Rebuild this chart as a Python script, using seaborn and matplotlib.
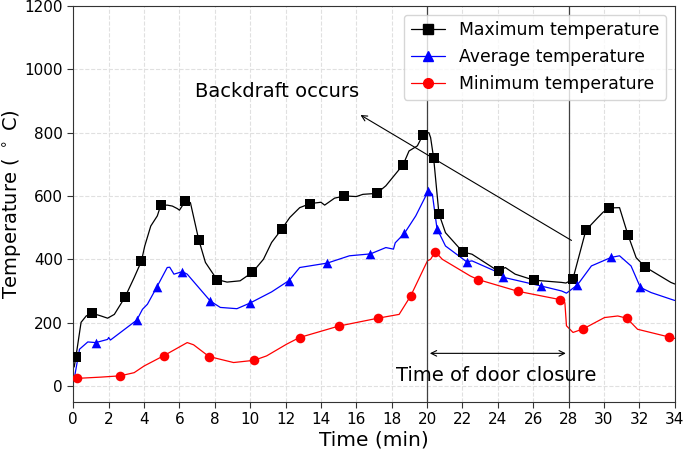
import numpy as np
import pandas as pd
import matplotlib
matplotlib.use("Agg")
import matplotlib.pyplot as plt
from matplotlib.lines import Line2D
import seaborn as sns

# marker points (time in min, temperature in deg C)
max_mark_t = [0.15, 1.04, 2.92, 3.85, 4.94, 6.34, 7.09, 8.12, 10.13, 11.78,
              13.4, 15.33, 17.15, 18.65, 19.77, 20.37, 20.67, 22.02, 24.04,
              26.04, 28.24, 28.98, 30.28, 31.35, 32.32]
max_mark_T = [93, 230, 280, 394, 570, 584, 462, 336, 359, 495,
              576, 600, 608, 699, 793, 720, 544, 423, 362,
              334, 337, 492, 562, 478, 376]

avg_mark_t = [1.27, 3.59, 4.71, 6.17, 7.75, 10.0, 12.2, 14.36, 16.8, 18.72,
              20.07, 20.56, 22.24, 24.32, 26.42, 28.5, 30.41, 32.06]
avg_mark_T = [137, 208, 311, 361, 268, 262, 333, 388, 417, 482,
              616, 497, 392, 343, 316, 319, 406, 311]

min_mark_t = [0.22, 2.65, 5.13, 7.67, 10.22, 12.79, 15.0, 17.22, 19.08,
              20.46, 22.88, 25.13, 27.49, 28.82, 31.29, 33.65]
min_mark_T = [24, 32, 96, 93, 81, 153, 189, 214, 285,
              424, 336, 299, 273, 180, 214, 155]

# extra points along the continuous curves between markers
max_line_t = [0.05, 0.44, 0.73, 1.57, 1.94, 2.32, 3.44, 4.04, 4.38, 4.75,
              5.31, 5.6, 5.88, 6.0, 6.62, 7.47, 8.69, 9.43, 10.75, 11.21,
              12.24, 12.8, 14.0, 14.21, 14.77, 16.0, 16.37, 17.67, 18.05,
              18.98, 19.45, 20.1, 20.2, 21.04, 22.54, 24.42, 24.98, 27.6,
              27.85, 29.66, 29.94, 30.88, 31.82, 33.78, 34.0]
max_line_T = [60, 201, 221, 221, 214, 226, 342, 442, 505, 537,
              571, 568, 560, 555, 579, 390, 328, 332, 400, 453,
              532, 563, 580, 571, 593, 598, 605, 632, 658,
              742, 758, 800, 784, 484, 416, 374, 353, 327,
              325, 532, 548, 563, 405, 327, 322]

avg_line_t = [0.05, 0.35, 0.82, 1.94, 2.0, 2.1, 3.91, 4.19, 5.31, 5.45,
              5.69, 6.44, 8.31, 9.25, 11.21, 12.8, 15.61, 17.67, 18.1, 18.2,
              19.36, 20.3, 21.04, 22.54, 24.04, 27.6, 27.88, 29.29, 30.88,
              31.53, 32.66, 33.78, 34.0]
avg_line_T = [22, 116, 139, 147, 153, 145, 242, 258, 374, 375,
              353, 353, 248, 244, 297, 374, 411, 437, 432, 452,
              537, 605, 442, 395, 358, 300, 293, 379, 411,
              379, 295, 274, 270]

min_line_t = [0.1, 1.57, 3.44, 4.0, 6.44, 6.8, 9.06, 10.93, 12.06, 18.42,
              20.02, 20.2, 20.86, 22.45, 27.79, 27.88, 28.25, 30.03, 30.78,
              31.9, 34.0]
min_line_T = [22, 28, 42, 63, 137, 130, 74, 95, 132, 226,
              395, 400, 400, 347, 263, 190, 169, 216, 221,
              179, 150]

series_names = ['Maximum temperature', 'Average temperature',
                'Minimum temperature']
colors = ['black', 'blue', 'red']
markers = ['s', '^', 'o']


def build_tables():
    """Build a line table and a marker table from the lists above."""
    lines = []
    marks = []
    groups = [(max_mark_t, max_mark_T, max_line_t, max_line_T),
              (avg_mark_t, avg_mark_T, avg_line_t, avg_line_T),
              (min_mark_t, min_mark_T, min_line_t, min_line_T)]
    for name, (mt, mT, lt, lT) in zip(series_names, groups):
        mk = pd.DataFrame({'time': mt, 'temp': mT, 'series': name})
        ln = pd.DataFrame({'time': lt, 'temp': lT, 'series': name})
        marks.append(mk)
        lines.append(pd.concat([mk, ln]).sort_values('time'))
    return pd.concat(lines), pd.concat(marks)


line_df, mark_df = build_tables()

sns.set_style("whitegrid", {"grid.linestyle": "--", "grid.color": "0.88",
                            "axes.edgecolor": "0.2", "text.color": "black",
                            "axes.labelcolor": "black"})
plt.rcParams['font.family'] = ['DejaVu Sans']

fig = plt.figure(figsize=(6.85, 4.53), dpi=100)
ax = fig.add_axes([0.107, 0.113, 0.878, 0.874])

for name, c, m in zip(series_names, colors, markers):
    sub_l = line_df[line_df['series'] == name]
    sub_m = mark_df[mark_df['series'] == name]
    sns.lineplot(data=sub_l, x='time', y='temp', sort=False, color=c,
                 lw=0.9, ax=ax, legend=False)
    sns.scatterplot(data=sub_m, x='time', y='temp', color=c, marker=m,
                    s=48, edgecolor=c, linewidth=0, ax=ax, legend=False,
                    zorder=3)

# door open / close vertical lines
ax.axvline(20, color='0.25', lw=0.9)
ax.axvline(28, color='0.25', lw=0.9)

ax.annotate('', xy=(16.1, 860), xytext=(28.3, 455),
            arrowprops=dict(arrowstyle='->', color='black', lw=0.8))
ax.text(6.9, 931, 'Backdraft occurs', fontsize=14, va='center', ha='left',
        color='black')

ax.annotate('', xy=(20, 103), xytext=(28, 103),
            arrowprops=dict(arrowstyle='<->', color='black', lw=0.8))
ax.text(23.9, 34, 'Time of door closure', fontsize=14, va='center',
        ha='center', color='black')

ax.set_xlim(0, 34)
ax.set_ylim(-50, 1200)
ax.set_xticks(np.arange(0, 35, 2))
ax.set_yticks(np.arange(0, 1201, 200))
ax.tick_params(labelsize=11, left=True, bottom=True, length=4, width=0.8,
               colors='0.2', labelcolor='black')
ax.set_xlabel('Time (min)', fontsize=14.5, labelpad=2, color='black')
ax.set_ylabel(r'Temperature ( $^\circ$ C)', fontsize=14, labelpad=1,
              color='black')

handles = [Line2D([0], [0], color=c, marker=m, lw=0.9, markersize=7)
           for c, m in zip(colors, markers)]
leg = ax.legend(handles, series_names, loc='upper right', fontsize=12.4,
                frameon=True)
for t in leg.get_texts():
    t.set_color('black')

fig.savefig('out.png', dpi=100)
